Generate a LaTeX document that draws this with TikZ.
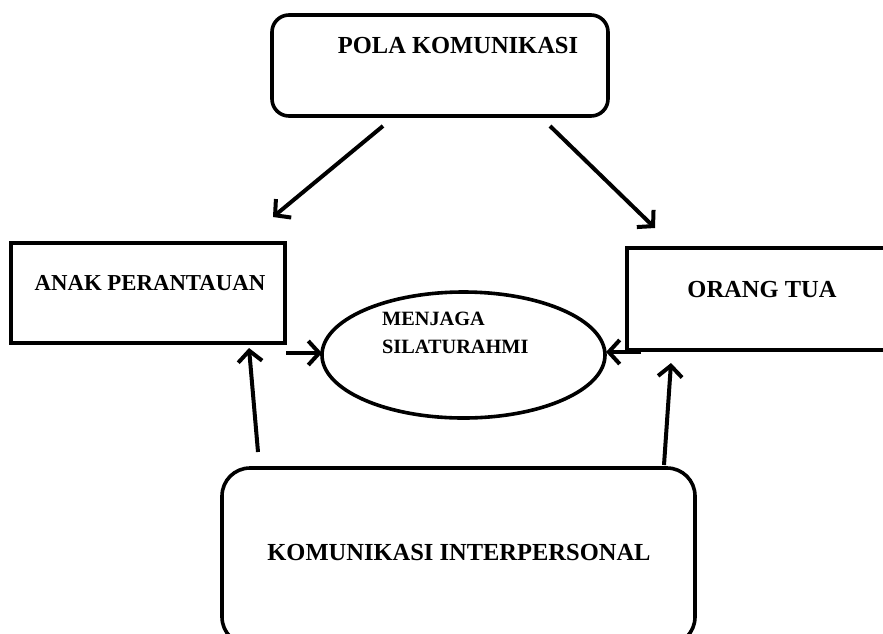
\documentclass[tikz,border=0pt]{standalone}
\usepackage{fontspec}
\setmainfont{Liberation Serif}
\usetikzlibrary{arrows.meta,shapes.geometric}
\begin{document}
\begin{tikzpicture}[x=1pt,y=-1pt,
  box/.style={draw=black,line width=3.6pt,inner sep=0pt,outer sep=0pt,fill=white},
  lbl/.style={inner sep=0pt,anchor=base,font=\bfseries\fontsize{24.5}{28}\selectfont},
  arr/.style={draw=black,line width=4pt,-{Straight Barb[length=11pt,width=24pt,line width=4pt]}}]
\useasboundingbox (0,0) rectangle (883,633);
\clip (0,0) rectangle (883,633);
% shapes
\node[box,rounded corners=17pt,minimum width=336pt,minimum height=101pt] (pola) at (440,65.5) {};
\node[box,minimum width=274pt,minimum height=100pt] (anak) at (148,293) {};
\node[box,minimum width=268pt,minimum height=102pt] (ortu) at (761,299) {};
\node[box,ellipse,minimum width=283pt,minimum height=126pt] (menjaga) at (463.5,355) {};
\node[box,rounded corners=28pt,minimum width=473pt,minimum height=177pt] (kip) at (458.5,556.5) {};
% texts
\node[lbl] (tpola) at (458,53) {POLA KOMUNIKASI};
\node[lbl,font=\bfseries\fontsize{22.8}{26}\selectfont] (tanak) at (150,290) {ANAK PERANTAUAN};
\node[lbl] (tortu) at (762,297) {ORANG TUA};
\node[lbl] (tkip) at (459,560) {KOMUNIKASI INTERPERSONAL};
\node[inner sep=0pt,anchor=base west,font=\bfseries\fontsize{20.3}{28}\selectfont] (tm1) at (382,325) {MENJAGA};
\node[inner sep=0pt,anchor=base west,font=\bfseries\fontsize{20.3}{28}\selectfont] (tm2) at (382,353) {SILATURAHMI};
% connector end points
\coordinate (p1s) at (383,126);
\coordinate (p1e) at (273,217);
\coordinate (p2s) at (550,126);
\coordinate (p2e) at (655,228);
\coordinate (a1s) at (286,353);
\coordinate (a1e) at (322,353);
\coordinate (o1s) at (641,352);
\coordinate (o1e) at (606,352);
\coordinate (k1s) at (258,452);
\coordinate (k1e) at (249,348);
\coordinate (k2s) at (664,465);
\coordinate (k2e) at (671,363);
% connectors
\draw[arr] (p1s) -- (p1e);
\draw[arr] (p2s) -- (p2e);
\draw[arr] (a1s) -- (a1e);
\draw[arr] (o1s) -- (o1e);
\draw[arr] (k1s) -- (k1e);
\draw[arr] (k2s) -- (k2e);
\end{tikzpicture}
\end{document}
